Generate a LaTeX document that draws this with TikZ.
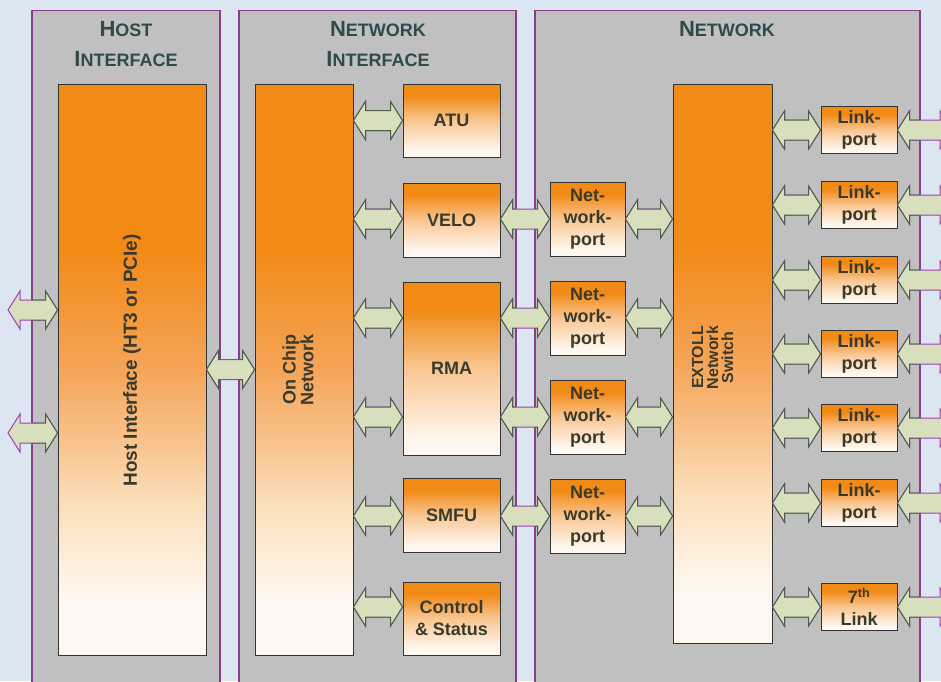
\documentclass[tikz,border=0pt]{standalone}
\usepackage{fontspec}
\setmainfont{Liberation Sans}
\usetikzlibrary{calc}

\definecolor{bgblue}{HTML}{DCE6F1}
\definecolor{panelgray}{HTML}{C0C0C0}
\definecolor{panelline}{HTML}{8A3C8E}
\definecolor{headtext}{HTML}{2F4A4A}
\definecolor{boxtext}{HTML}{3A3A2C}
\definecolor{boxorange}{HTML}{F28A16}
\definecolor{boxmid}{HTML}{F5A458}
\definecolor{boxpale}{HTML}{FBDDB8}
\definecolor{boxwhite}{HTML}{FFF8F0}
\definecolor{arrowfill}{HTML}{D8DFBD}
\definecolor{arrowline}{HTML}{4A5E4A}
\definecolor{gappurple}{HTML}{A040B0}

% the path spans 25bp (bottom) to 75bp (top) of a named shading
\pgfdeclareverticalshading{tallshade}{100bp}{color(0bp)=(boxwhite); color(30bp)=(boxwhite); color(38.5bp)=(boxpale); color(50bp)=(boxmid); color(60.5bp)=(boxorange); color(100bp)=(boxorange)}
\pgfdeclareverticalshading{smallshade}{100bp}{color(0bp)=(boxwhite); color(29bp)=(boxwhite); color(50bp)=(boxpale!60!boxmid); color(67bp)=(boxorange); color(100bp)=(boxorange)}

% small caps made by hand
\newcommand{\hdrword}[2]{{\fontsize{22}{30}\selectfont #1}{\fontsize{18}{30}\selectfont #2}}

% block arrow with two heads, between two points at the same height
\newcommand{\busshape}{(\x1,\y1) -- (\x1+12pt,\y1+19pt) -- (\x1+12pt,\y1+10pt) -- (\x2-12pt,\y1+10pt) -- (\x2-12pt,\y1+19pt) -- (\x2,\y1) -- (\x2-12pt,\y1-19pt) -- (\x2-12pt,\y1-10pt) -- (\x1+12pt,\y1-10pt) -- (\x1+12pt,\y1-19pt) -- cycle}
\newcommand{\busarrow}[2]{%
  \path[busarrow, draw=gappurple] let \p1=#1, \p2=#2 in \busshape;
  \begin{scope}
    \clip (hostpanel.north west) rectangle (hostpanel.south east)
          (nipanel.north west) rectangle (nipanel.south east)
          (netpanel.north west) rectangle (netpanel.south east);
    \path[busarrow] let \p1=#1, \p2=#2 in \busshape;
  \end{scope}}

\begin{document}
\begin{tikzpicture}[x=1pt, y=-1pt, font=\bfseries\fontsize{18}{22}\selectfont,
    panel/.style={draw=panelline, line width=1.4pt, fill=panelgray, anchor=north, minimum height=720},
    head/.style={text=headtext, align=center, inner sep=0pt, font=\bfseries\fontsize{18}{30}\selectfont},
    tallbox/.style={draw=black!80, line width=1pt, shading=tallshade, inner sep=0pt},
    unit/.style={draw=black!80, line width=1pt, shading=smallshade, text=boxtext, align=center, minimum width=97, inner sep=0pt},
    netport/.style={unit, minimum width=75, minimum height=74},
    linkport/.style={unit, minimum width=76, minimum height=47},
    busarrow/.style={fill=arrowfill, draw=arrowline, line width=1pt, line join=miter}]
  \path[use as bounding box, fill=bgblue] (0,0) rectangle (941,681);
  \clip (0,0) rectangle (941,681);

  % panels
  \node[panel, minimum width=188] (hostpanel) at (126,10) {};
  \node[panel, minimum width=277] (nipanel) at (377.5,10) {};
  \node[panel, minimum width=385] (netpanel) at (727.5,10) {};
  \node[head] (hosthead) at (126,44) {\hdrword{H}{OST}\\\hdrword{I}{NTERFACE}};
  \node[head] (nihead) at (378,44) {\hdrword{N}{ETWORK}\\\hdrword{I}{NTERFACE}};
  \node[head] (nethead) at (727,29) {\hdrword{N}{ETWORK}};

  % big blocks
  \node[tallbox, minimum width=148, minimum height=571,
    label={[yshift=9, rotate=90, text=boxtext, font=\bfseries\fontsize{19}{22}\selectfont]center:Host Interface (HT3 or PCIe)}] (hostbox) at (132,369.5) {};
  \node[tallbox, minimum width=98, minimum height=571,
    label={[xshift=-6, rotate=90, text=boxtext, align=center, font=\bfseries\fontsize{18}{16}\selectfont]center:On Chip\\Network}] (onchip) at (304,369.5) {};
  \node[tallbox, minimum width=99, minimum height=559,
    label={[xshift=-10, yshift=6, rotate=90, text=boxtext, align=center, font=\bfseries\fontsize{16}{15}\selectfont]center:EXTOLL\\Network\\Switch}] (switch) at (722.5,363.5) {};

  % units
  \node[unit, minimum height=73] (atu) at (451.5,120.5) {ATU};
  \node[unit, minimum height=74] (velo) at (451.5,220) {VELO};
  \node[unit, minimum height=173] (rma) at (451.5,368.5) {RMA};
  \node[unit, minimum height=74] (smfu) at (451.5,515) {SMFU};
  \node[unit, minimum height=73] (ctrl) at (451.5,618.5) {Control\\\& Status};

  \foreach \py [count=\pk] in {219,318,417,516}
    \node[netport] (np\pk) at (587.5,\py) {Net-\\work-\\port};
  \foreach \ly [count=\lk] in {130,205,280,354,428,503}
    \node[linkport] (lp\lk) at (859,\ly) {Link-\\port};
  \node[linkport] (lp7) at (859,607) {7\textsuperscript{th}\\Link};

  \coordinate (hin1) at (8,310);
  \coordinate (hin2) at (8,433);
  \coordinate (linkout) at (952,0);

  % connections
  \busarrow{(hin1)}{(hostbox.west |- hin1)}
  \busarrow{(hin2)}{(hostbox.west |- hin2)}
  \busarrow{(hostbox.east)}{(onchip.west |- hostbox.east)}
  \busarrow{(onchip.east |- atu.west)}{(atu.west)}
  \busarrow{(onchip.east |- np1.west)}{(velo.west |- np1.west)}
  \busarrow{(onchip.east |- np2.west)}{(rma.west |- np2.west)}
  \busarrow{(onchip.east |- np3.west)}{(rma.west |- np3.west)}
  \busarrow{(onchip.east |- np4.west)}{(smfu.west |- np4.west)}
  \busarrow{(onchip.east |- lp7.west)}{(ctrl.west |- lp7.west)}
  \busarrow{(velo.east |- np1.west)}{(np1.west)}
  \busarrow{(rma.east |- np2.west)}{(np2.west)}
  \busarrow{(rma.east |- np3.west)}{(np3.west)}
  \busarrow{(smfu.east |- np4.west)}{(np4.west)}
  \foreach \pk in {1,...,4} {
    \busarrow{(np\pk.east)}{(switch.west |- np\pk.east)}
  }
  \foreach \lk in {1,...,7} {
    \busarrow{(switch.east |- lp\lk.west)}{(lp\lk.west)}
    \busarrow{(lp\lk.east)}{(lp\lk.east -| linkout)}
  }
\end{tikzpicture}
\end{document}
